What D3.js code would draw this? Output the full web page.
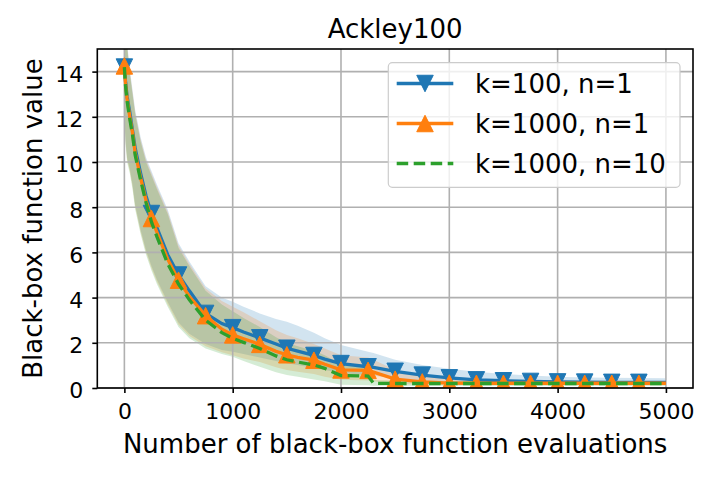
<!DOCTYPE html>
<html>
<head>
<meta charset="utf-8">
<script src="https://cdn.jsdelivr.net/npm/d3@7"></script>
<style>
  body { margin: 0; background: #fff; }
  svg { font-family: "DejaVu Sans", sans-serif; }
</style>
</head>
<body>
<div class="chart"></div>
<script>

const evals = [0, 10, 25, 50, 75, 100, 150, 200, 250, 300, 400, 500, 600, 750, 900, 1000, 1100, 1250, 1400, 1500,
    1600, 1750, 1850, 2000, 2250, 2300, 2500, 2750, 3000, 3250, 3500, 3750, 4000, 4250, 4500, 4750, 5000]

// k=100, n=1
const k100Mean = [14.2, 13.6, 12.9, 12.2, 11.4, 10.6, 9.5, 8.5, 7.72, 7.1, 5.9, 5.0, 4.3, 3.3, 2.85, 2.67, 2.48, 2.22, 1.95, 1.76,
    1.63, 1.44, 1.28, 1.08, 0.94, 0.91, 0.74, 0.57, 0.45, 0.36, 0.32, 0.29, 0.27, 0.26, 0.25, 0.25, 0.25]
const k100Hi = [16.5, 16.0, 15.3, 14.1, 13.2, 12.3, 11.1, 10.2, 9.6, 9.0, 7.9, 6.4, 5.6, 4.5, 4.0, 3.82, 3.6, 3.3, 3.05, 2.93,
    2.75, 2.45, 2.2, 1.9, 1.6, 1.55, 1.25, 1.02, 0.85, 0.72, 0.62, 0.55, 0.5, 0.47, 0.45, 0.44, 0.43]
const k100Lo = [12.2, 11.0, 10.2, 9.7, 9.0, 8.1, 7.0, 6.1, 5.4, 4.8, 3.8, 2.9, 2.4, 1.95, 1.68, 1.6, 1.5, 1.35, 1.2, 1.1,
    1.02, 0.88, 0.8, 0.66, 0.56, 0.54, 0.43, 0.33, 0.26, 0.2, 0.18, 0.17, 0.16, 0.15, 0.15, 0.15, 0.15]

// k=1000, n=1
const k1000Mean = [14.25, 13.5, 12.8, 12.0, 11.3, 10.4, 9.3, 8.3, 7.5, 6.9, 5.7, 4.77, 4.05, 3.2, 2.6, 2.35, 2.18, 1.93, 1.62, 1.47,
    1.36, 1.23, 1.05, 0.8, 0.78, 0.7, 0.39, 0.27, 0.22, 0.21, 0.21, 0.21, 0.21, 0.21, 0.21, 0.21, 0.21]
const k1000Hi = [16.4, 15.9, 15.2, 14.0, 13.1, 12.2, 11.0, 10.1, 9.5, 8.9, 7.8, 6.3, 5.5, 4.4, 3.85, 3.6, 3.35, 2.95, 2.55, 2.35,
    2.2, 1.95, 1.75, 1.45, 1.35, 1.25, 0.8, 0.55, 0.42, 0.36, 0.34, 0.33, 0.32, 0.31, 0.31, 0.31, 0.31]
const k1000Lo = [12.1, 10.9, 10.1, 9.6, 8.9, 8.0, 6.9, 6.0, 5.3, 4.7, 3.7, 2.8, 2.3, 1.85, 1.58, 1.45, 1.3, 1.15, 0.92, 0.8,
    0.72, 0.62, 0.5, 0.36, 0.33, 0.3, 0.18, 0.14, 0.13, 0.12, 0.12, 0.12, 0.12, 0.12, 0.12, 0.12, 0.12]

// k=1000, n=10
const k1000n10Mean = [14.2, 13.4, 12.7, 11.9, 11.2, 10.3, 9.2, 8.2, 7.35, 6.7, 5.5, 4.6, 3.9, 3.0, 2.45, 2.2, 2.02, 1.75, 1.42, 1.25,
    1.15, 1.02, 0.87, 0.55, 0.53, 0.21, 0.2, 0.2, 0.2, 0.2, 0.2, 0.2, 0.2, 0.2, 0.2, 0.2, 0.2]
const k1000n10Hi = [16.3, 15.8, 15.1, 13.9, 13.0, 12.1, 10.9, 10.0, 9.4, 8.8, 7.7, 6.2, 5.4, 4.3, 3.7, 3.4, 3.1, 2.7, 2.25, 2.0,
    1.85, 1.65, 1.45, 1.05, 1.0, 0.35, 0.33, 0.32, 0.31, 0.3, 0.3, 0.3, 0.3, 0.3, 0.3, 0.3, 0.3]
const k1000n10Lo = [12.0, 10.8, 10.0, 9.5, 8.8, 7.9, 6.8, 5.9, 5.2, 4.6, 3.6, 2.7, 2.2, 1.75, 1.5, 1.38, 1.2, 0.94, 0.7, 0.58,
    0.5, 0.38, 0.3, 0.14, 0.12, 0.1, 0.1, 0.1, 0.1, 0.1, 0.1, 0.1, 0.1, 0.1, 0.1, 0.1, 0.1]

const seriesNames = ["k=100, n=1", "k=1000, n=1", "k=1000, n=10"]
const xTicks = [0, 1000, 2000, 3000, 4000, 5000]
const yTicks = [0, 2, 4, 6, 8, 10, 12, 14]

// table for drawing
const series = [
    { name: seriesNames[0], mean: k100Mean, lo: k100Lo, hi: k100Hi, color: "#1f77b4", marker: "down", dash: null },
    { name: seriesNames[1], mean: k1000Mean, lo: k1000Lo, hi: k1000Hi, color: "#ff7f0e", marker: "up", dash: null },
    { name: seriesNames[2], mean: k1000n10Mean, lo: k1000n10Lo, hi: k1000n10Hi, color: "#2ca02c", marker: null, dash: "11.5,5.5" }
]

const W = 720, H = 480
const plotL = 97.3, plotR = 693, plotT = 49, plotB = 388

let svg = d3.select(".chart").append("svg")
    .attr("width", W)
    .attr("height", H)

let xScale = d3.scaleLinear().domain([-250, 5250]).range([plotL, plotR])
let yScale = d3.scaleLinear().domain([0, 15]).range([plotB, plotT])

svg.append("defs").append("clipPath")
    .attr("id", "plot-clip")
    .append("rect")
    .attr("x", plotL).attr("y", plotT)
    .attr("width", plotR - plotL).attr("height", plotB - plotT)

// triangle markers like matplotlib's "v" and "^"
function triangle(dir, s) {
    const h = s / 2
    return dir === "down"
        ? `M${-h},${-h}L${h},${-h}L0,${h}Z`
        : `M0,${-h}L${h},${h}L${-h},${h}Z`
}

// shaded spread bands
let bands = svg.append("g").attr("clip-path", "url(#plot-clip)")
series.forEach(s => {
    const area = d3.area()
        .x((d, i) => xScale(evals[i]))
        .y0((d, i) => yScale(s.lo[i]))
        .y1((d, i) => yScale(s.hi[i]))
    bands.append("path")
        .datum(s.mean)
        .attr("fill", s.color)
        .attr("fill-opacity", 0.2)
        .attr("d", area)
})

// grid
let grid = svg.append("g").attr("stroke", "#b0b0b0").attr("stroke-width", 1.6)
xTicks.forEach(t => {
    grid.append("line")
        .attr("x1", xScale(t)).attr("x2", xScale(t))
        .attr("y1", plotT).attr("y2", plotB)
})
yTicks.forEach(t => {
    grid.append("line")
        .attr("x1", plotL).attr("x2", plotR)
        .attr("y1", yScale(t)).attr("y2", yScale(t))
})

// mean curves with markers every 250 evaluations
let lines = svg.append("g").attr("clip-path", "url(#plot-clip)")
series.forEach(s => {
    const line = d3.line()
        .x((d, i) => xScale(evals[i]))
        .y(d => yScale(d))
    lines.append("path")
        .datum(s.mean)
        .attr("fill", "none")
        .attr("stroke", s.color)
        .attr("stroke-width", 3.3)
        .attr("stroke-dasharray", s.dash)
        .attr("d", line)

    if (s.marker) {
        const pts = evals.map((e, i) => [e, s.mean[i]]).filter(p => p[0] % 250 === 0 && p[0] < 5000)
        lines.selectAll(null)
            .data(pts)
            .enter()
            .append("path")
            .attr("transform", d => `translate(${xScale(d[0])},${yScale(d[1])})`)
            .attr("d", triangle(s.marker, 16.5))
            .attr("fill", s.color)
            .attr("stroke", s.color)
            .attr("stroke-width", 1)
    }
})

// axes
let xAxis = d3.axisBottom(xScale).tickValues(xTicks).tickFormat(d3.format("d"))
    .tickSize(5).tickPadding(10).tickSizeOuter(0)
let yAxis = d3.axisLeft(yScale).tickValues(yTicks).tickFormat(d3.format("d"))
    .tickSize(5).tickPadding(9).tickSizeOuter(0)

let gx = svg.append("g")
    .attr("transform", `translate(0, ${plotB})`)
    .call(xAxis)
let gy = svg.append("g")
    .attr("transform", `translate(${plotL}, 0)`)
    .call(yAxis)

;[gx, gy].forEach(g => {
    g.select(".domain").remove()
    g.selectAll(".tick line").attr("stroke", "#000").attr("stroke-width", 1.6)
    g.selectAll(".tick text")
        .attr("fill", "#000")
        .style("font-family", "DejaVu Sans")
        .style("font-size", "22px")
})
gy.selectAll(".tick text").attr("dy", "0.45em")

// frame
svg.append("rect")
    .attr("x", plotL).attr("y", plotT)
    .attr("width", plotR - plotL).attr("height", plotB - plotT)
    .attr("fill", "none")
    .attr("stroke", "#000")
    .attr("stroke-width", 1.6)

// title and labels
svg.append("text")
    .attr("x", (plotL + plotR) / 2).attr("y", 37.7)
    .attr("text-anchor", "middle")
    .style("font-size", "26px")
    .text("Ackley100")

svg.append("text")
    .attr("x", (plotL + plotR) / 2).attr("y", 453)
    .attr("text-anchor", "middle")
    .style("font-size", "26px")
    .text("Number of black-box function evaluations")

svg.append("text")
    .attr("transform", `translate(41.5, ${(plotT + plotB) / 2}) rotate(-90)`)
    .attr("text-anchor", "middle")
    .style("font-size", "26px")
    .text("Black-box function value")

// legend
let legend = svg.append("g")
legend.append("rect")
    .attr("x", 388.3).attr("y", 62.7)
    .attr("width", 291.7).attr("height", 124.6)
    .attr("rx", 4)
    .attr("fill", "#fff")
    .attr("fill-opacity", 0.8)
    .attr("stroke", "#cccccc")
    .attr("stroke-width", 1.2)

series.forEach((s, i) => {
    const ry = 83.5 + i * 40
    legend.append("line")
        .attr("x1", 396.7).attr("x2", 453.3)
        .attr("y1", ry).attr("y2", ry)
        .attr("stroke", s.color)
        .attr("stroke-width", 3.3)
        .attr("stroke-dasharray", s.dash)
    if (s.marker) {
        legend.append("path")
            .attr("transform", `translate(425, ${ry})`)
            .attr("d", triangle(s.marker, 16.5))
            .attr("fill", s.color)
            .attr("stroke", s.color)
            .attr("stroke-width", 1)
    }
    legend.append("text")
        .attr("x", 475).attr("y", ry + 9.5)
        .style("font-size", "26px")
        .text(s.name)
})

</script>
</body>
</html>
